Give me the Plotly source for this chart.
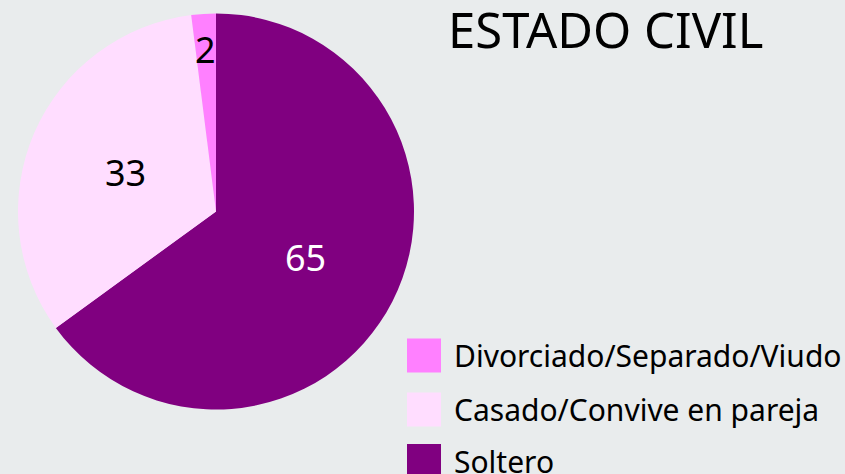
import math
import plotly.graph_objects as go

# legend order (top to bottom)
labels = ["Divorciado/Separado/Viudo", "Casado/Convive en pareja", "Soltero"]
values = [2, 33, 65]
colors = ["#FF80FF", "#FFDDFF", "#800080"]
text_colors = ["#000000", "#000000", "#FFFFFF"]
label_radius = [0.82, 0.5, 0.51]  # fraction of pie radius where value labels sit
title_text = "ESTADO CIVIL"

W, H = 845, 474
bg = "#E9ECED"
font_family = "Noto Sans"

# pie geometry (pixels)
cx, cy, R = 216.0, 211.5, 198.0

# slices drawn clockwise from 12 o'clock: Soltero, Casado, Divorciado
pie_labels = labels[::-1]
pie_values = values[::-1]
pie_colors = colors[::-1]

fig = go.Figure()
fig.add_trace(go.Pie(
    labels=pie_labels,
    values=pie_values,
    sort=False,
    direction="clockwise",
    rotation=0,
    marker=dict(colors=pie_colors, line=dict(width=0)),
    textinfo="none",
    domain=dict(x=[(cx - R) / W, (cx + R) / W], y=[(H - cy - R) / H, (H - cy + R) / H]),
    showlegend=False,
    hoverinfo="label+value",
))

# value labels placed at slice mid-angles derived from the values
total = sum(pie_values)
cum = 0.0
for v, tc, rf in zip(pie_values, text_colors[::-1], label_radius[::-1]):
    mid = (cum + v / 2) / total * 2 * math.pi  # clockwise from 12 o'clock
    cum += v
    px = cx + rf * R * math.sin(mid)
    py = cy - rf * R * math.cos(mid)
    fig.add_annotation(xref="paper", yref="paper", x=px / W, y=(H - py) / H,
                       xanchor="center", yanchor="middle", showarrow=False,
                       text=str(v), font=dict(size=36, color=tc, family=font_family))

# custom legend (large square swatches)
row_centers = [355.5, 409.5, 461.0]
sw = 34
for lab, col, yc in zip(labels, colors, row_centers):
    fig.add_shape(type="rect", xref="paper", yref="paper",
                  x0=407 / W, x1=(407 + sw) / W,
                  y0=(H - yc - sw / 2) / H, y1=(H - yc + sw / 2) / H,
                  fillcolor=col, line=dict(width=0))
    fig.add_annotation(xref="paper", yref="paper", x=452 / W, y=(H - yc) / H,
                       xanchor="left", yanchor="middle", showarrow=False,
                       text=lab, font=dict(size=30, color="#000000", family=font_family))

fig.add_annotation(xref="paper", yref="paper", x=605 / W, y=(H - 29) / H,
                   xanchor="center", yanchor="middle", showarrow=False,
                   text=title_text, font=dict(size=49, color="#000000", family=font_family))

fig.update_layout(
    width=W, height=H,
    margin=dict(l=0, r=0, t=0, b=0),
    paper_bgcolor=bg, plot_bgcolor=bg,
    font=dict(family=font_family),
)

fig.write_html(
    "out.html",
    config={"displayModeBar": False},
    post_script="document.body.style.margin='0';document.body.style.overflow='hidden';",
)
